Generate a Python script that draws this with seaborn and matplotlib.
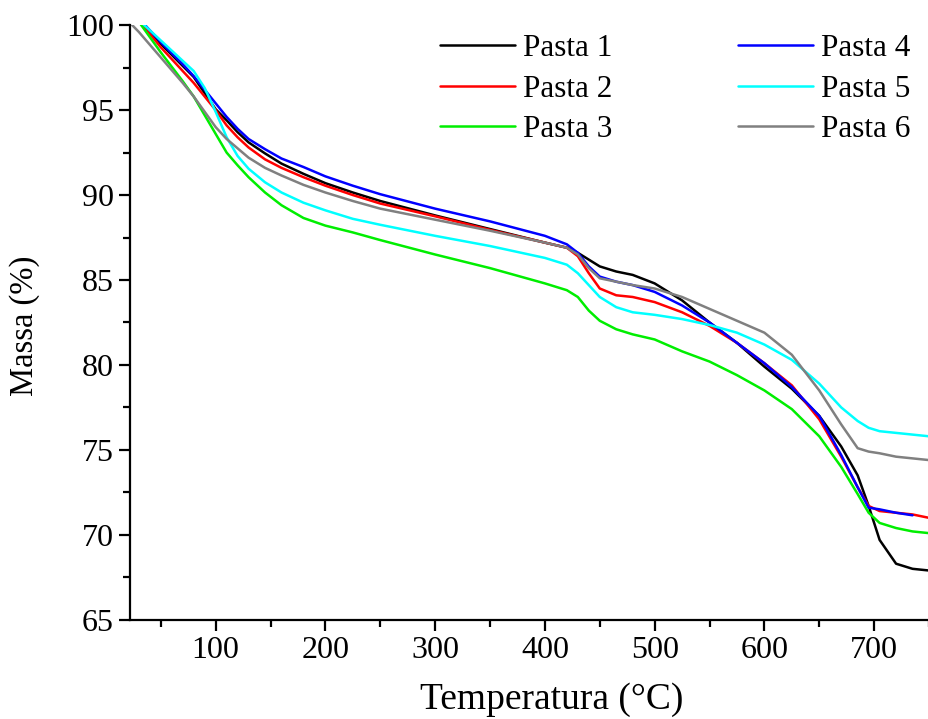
import matplotlib
matplotlib.use("Agg")
import matplotlib.pyplot as plt
import seaborn as sns
import pandas as pd
from matplotlib.ticker import MultipleLocator

# Temperatures (°C) and mass (%)
temp = [30, 50, 70, 80, 90, 100, 110, 120, 130, 145, 160, 180, 200, 225, 250, 300, 350, 400, 420, 430,
        440, 450, 465, 480, 500, 525, 550, 575, 600, 625, 650, 670, 685, 695, 705, 720, 735, 750]

pasta1 = [100.4, 98.9, 97.6, 96.95, 96.0, 95.05, 94.4, 93.7, 93.1, 92.45, 91.85, 91.25, 90.7, 90.15, 89.65,
          88.8, 88.0, 87.2, 86.9, 86.6, 86.2, 85.8, 85.5, 85.3, 84.8, 83.8, 82.5, 81.3, 79.9, 78.6, 77.0,
          75.2, 73.5, 71.7, 69.7, 68.3, 68.0, 67.9]
pasta2 = [100.3, 98.7, 97.3, 96.6, 95.8, 95.0, 94.1, 93.4, 92.8, 92.1, 91.6, 91.05, 90.55, 90.0, 89.5,
          88.75, 87.95, 87.2, 86.9, 86.4, 85.4, 84.5, 84.1, 84.0, 83.7, 83.1, 82.3, 81.3, 80.1, 78.8, 76.8,
          74.6, 72.8, 71.7, 71.4, 71.3, 71.2, 71.0]
pasta3 = [100.2, 98.4, 96.7, 95.8, 94.7, 93.6, 92.5, 91.75, 91.05, 90.15, 89.4, 88.65, 88.2, 87.8, 87.35,
          86.5, 85.7, 84.8, 84.4, 84.0, 83.2, 82.6, 82.1, 81.8, 81.5, 80.8, 80.2, 79.4, 78.5, 77.4, 75.8,
          74.0, 72.4, 71.3, 70.7, 70.4, 70.2, 70.1]
pasta4 = [100.4, 99.0, 97.7, 97.0, 96.2, 95.4, 94.6, 93.9, 93.3, 92.7, 92.15, 91.65, 91.1, 90.55, 90.05,
          89.2, 88.45, 87.6, 87.1, 86.6, 85.8, 85.2, 84.9, 84.7, 84.3, 83.5, 82.5, 81.3, 80.1, 78.7, 77.0,
          74.7, 72.8, 71.6, 71.5, 71.3, 71.15, None]
pasta5 = [100.3, 99.1, 97.9, 97.3, 96.3, 94.9, 93.4, 92.3, 91.55, 90.75, 90.15, 89.55, 89.1, 88.6, 88.25,
          87.6, 87.0, 86.3, 85.9, 85.4, 84.7, 84.0, 83.4, 83.1, 82.95, 82.7, 82.35, 81.9, 81.2, 80.3, 78.9,
          77.5, 76.7, 76.3, 76.1, 76.0, 75.9, 75.8]
pasta6 = [99.6, 98.1, 96.6, 95.8, 94.9, 94.0, 93.3, 92.75, 92.2, 91.6, 91.15, 90.6, 90.15, 89.65, 89.2,
          88.55, 87.9, 87.2, 86.9, 86.5, 85.7, 85.1, 84.9, 84.7, 84.5, 84.0, 83.3, 82.6, 81.9, 80.6, 78.5,
          76.5, 75.1, 74.9, 74.8, 74.6, 74.5, 74.4]

names = ["Pasta 1", "Pasta 2", "Pasta 3", "Pasta 4", "Pasta 5", "Pasta 6"]
colors = ["#000000", "#ff0000", "#00ee00", "#0000ff", "#00ffff", "#808080"]

rows = []
for name, ys in zip(names, [pasta1, pasta2, pasta3, pasta4, pasta5, pasta6]):
    xs = list(temp)
    if name == "Pasta 6":
        xs = [24] + xs
        ys = [100.0] + ys
    for x, y in zip(xs, ys):
        if y is not None:
            rows.append({"Temperatura": x, "Massa": y, "Amostra": name})
df = pd.DataFrame(rows)

sns.set_style("ticks")
plt.rcParams["font.family"] = ["Liberation Serif", "DejaVu Serif"]
plt.rcParams["text.color"] = "black"
plt.rcParams["axes.labelcolor"] = "black"

fig = plt.figure(figsize=(9.29, 7.19), dpi=100)
ax = fig.add_axes([0.14, 0.138, 0.86, 0.827])

sns.lineplot(data=df, x="Temperatura", y="Massa", hue="Amostra", hue_order=names,
             palette=colors, linewidth=1.8, sort=False, estimator=None, ax=ax)

ax.set_xlim(22, 750)
ax.set_ylim(65, 100)
ax.xaxis.set_major_locator(MultipleLocator(100))
ax.xaxis.set_minor_locator(MultipleLocator(50))
ax.yaxis.set_major_locator(MultipleLocator(5))
ax.yaxis.set_minor_locator(MultipleLocator(2.5))
ax.set_xticks([100, 200, 300, 400, 500, 600, 700])
ax.tick_params(which="major", direction="out", length=8, width=1.6, labelsize=23, colors="black")
ax.tick_params(which="minor", direction="out", length=5, width=1.6, colors="black")
for s in ["left", "bottom"]:
    ax.spines[s].set_linewidth(1.6)
    ax.spines[s].set_color("black")
for s in ["top", "right"]:
    ax.spines[s].set_visible(False)

ax.set_xlabel("Temperatura (°C)", fontsize=27, color="black")
ax.set_ylabel("Massa (%)", fontsize=23.5, color="black")
ax.xaxis.set_label_coords(0.528, -0.105)
ax.yaxis.set_label_coords(-0.113, 0.494)

handles, labels = ax.get_legend_handles_labels()
leg = ax.legend(handles, labels, ncol=2, frameon=False, fontsize=22.5, loc="upper left",
                bbox_to_anchor=(0.388, 0.985), borderpad=0, borderaxespad=0,
                handlelength=2.4, columnspacing=4.0, labelspacing=0.37, handletextpad=0.26)
for t in leg.get_texts():
    t.set_color("black")

fig.savefig("out.png", dpi=100)
